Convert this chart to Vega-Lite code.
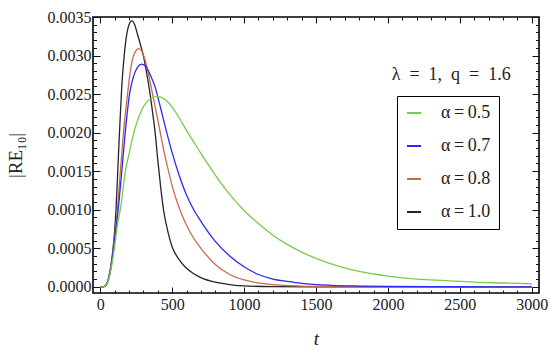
{
  "$schema": "https://vega.github.io/schema/vega-lite/v6.json",
  "width": 446,
  "height": 276,
  "autosize": "none",
  "padding": {"left": 93, "top": 17, "right": 11, "bottom": 64},
  "background": "white",
  "config": {
    "view": {"stroke": "black", "strokeWidth": 1.6},
    "font": "Liberation Serif",
    "axis": {
      "labelFont": "Liberation Serif",
      "labelFontSize": 16,
      "labelColor": "#222222",
      "titleFont": "Liberation Serif",
      "titleColor": "#222222",
      "titleFontWeight": "normal",
      "tickColor": "#111111",
      "tickWidth": 1,
      "domain": false,
      "grid": false
    },
    "legend": {"labelFont": "Liberation Serif", "titleFont": "Liberation Serif"},
    "text": {"font": "Liberation Serif"}
  },
  "datasets": {
    "curves": [
      {"t": 0, "v": 0, "a": "α=1.0"}, {"t": 20, "v": 0, "a": "α=1.0"}, {"t": 40, "v": 0.00002, "a": "α=1.0"},
      {"t": 60, "v": 0.00013, "a": "α=1.0"}, {"t": 80, "v": 0.00035, "a": "α=1.0"}, {"t": 95, "v": 0.0006, "a": "α=1.0"},
      {"t": 110, "v": 0.001, "a": "α=1.0"}, {"t": 122, "v": 0.0015, "a": "α=1.0"}, {"t": 134, "v": 0.002, "a": "α=1.0"},
      {"t": 150, "v": 0.0026, "a": "α=1.0"}, {"t": 167, "v": 0.003, "a": "α=1.0"}, {"t": 185, "v": 0.00328, "a": "α=1.0"},
      {"t": 200, "v": 0.0034, "a": "α=1.0"}, {"t": 220, "v": 0.00345, "a": "α=1.0"}, {"t": 240, "v": 0.0034, "a": "α=1.0"},
      {"t": 260, "v": 0.00327, "a": "α=1.0"}, {"t": 280, "v": 0.00314, "a": "α=1.0"}, {"t": 300, "v": 0.003, "a": "α=1.0"},
      {"t": 325, "v": 0.00275, "a": "α=1.0"}, {"t": 347, "v": 0.0025, "a": "α=1.0"}, {"t": 365, "v": 0.00225, "a": "α=1.0"},
      {"t": 382, "v": 0.002, "a": "α=1.0"}, {"t": 400, "v": 0.00165, "a": "α=1.0"}, {"t": 420, "v": 0.0013, "a": "α=1.0"},
      {"t": 440, "v": 0.001, "a": "α=1.0"}, {"t": 470, "v": 0.00072, "a": "α=1.0"}, {"t": 500, "v": 0.00052, "a": "α=1.0"},
      {"t": 550, "v": 0.00035, "a": "α=1.0"}, {"t": 600, "v": 0.00024, "a": "α=1.0"}, {"t": 650, "v": 0.00017, "a": "α=1.0"},
      {"t": 700, "v": 0.00012, "a": "α=1.0"}, {"t": 800, "v": 0.00006, "a": "α=1.0"}, {"t": 900, "v": 0.00003, "a": "α=1.0"},
      {"t": 1000, "v": 0.000012, "a": "α=1.0"}, {"t": 1200, "v": 0.000003, "a": "α=1.0"}, {"t": 1500, "v": 0, "a": "α=1.0"},
      {"t": 2000, "v": 0, "a": "α=1.0"}, {"t": 3000, "v": 0, "a": "α=1.0"},

      {"t": 0, "v": 0, "a": "α=0.8"}, {"t": 20, "v": 0, "a": "α=0.8"}, {"t": 40, "v": 0.00002, "a": "α=0.8"},
      {"t": 60, "v": 0.00012, "a": "α=0.8"}, {"t": 80, "v": 0.00033, "a": "α=0.8"}, {"t": 100, "v": 0.00065, "a": "α=0.8"},
      {"t": 120, "v": 0.001, "a": "α=0.8"}, {"t": 140, "v": 0.0015, "a": "α=0.8"}, {"t": 162, "v": 0.002, "a": "α=0.8"},
      {"t": 190, "v": 0.0025, "a": "α=0.8"}, {"t": 210, "v": 0.0028, "a": "α=0.8"}, {"t": 227, "v": 0.00297, "a": "α=0.8"},
      {"t": 245, "v": 0.00305, "a": "α=0.8"}, {"t": 266, "v": 0.00309, "a": "α=0.8"}, {"t": 285, "v": 0.00307, "a": "α=0.8"},
      {"t": 300, "v": 0.00301, "a": "α=0.8"}, {"t": 325, "v": 0.00285, "a": "α=0.8"}, {"t": 350, "v": 0.00263, "a": "α=0.8"},
      {"t": 375, "v": 0.0024, "a": "α=0.8"}, {"t": 400, "v": 0.00217, "a": "α=0.8"}, {"t": 425, "v": 0.00193, "a": "α=0.8"},
      {"t": 450, "v": 0.0017, "a": "α=0.8"}, {"t": 475, "v": 0.0015, "a": "α=0.8"}, {"t": 500, "v": 0.00131, "a": "α=0.8"},
      {"t": 550, "v": 0.00102, "a": "α=0.8"}, {"t": 600, "v": 0.0008, "a": "α=0.8"}, {"t": 650, "v": 0.00063, "a": "α=0.8"},
      {"t": 700, "v": 0.0005, "a": "α=0.8"}, {"t": 800, "v": 0.00029, "a": "α=0.8"}, {"t": 900, "v": 0.00016, "a": "α=0.8"},
      {"t": 1000, "v": 0.00009, "a": "α=0.8"}, {"t": 1100, "v": 0.00005, "a": "α=0.8"}, {"t": 1200, "v": 0.000028, "a": "α=0.8"},
      {"t": 1400, "v": 0.00001, "a": "α=0.8"}, {"t": 1600, "v": 0.000004, "a": "α=0.8"}, {"t": 2000, "v": 0.000001, "a": "α=0.8"},
      {"t": 2500, "v": 0, "a": "α=0.8"}, {"t": 3000, "v": 0, "a": "α=0.8"},

      {"t": 0, "v": 0, "a": "α=0.7"}, {"t": 20, "v": 0, "a": "α=0.7"}, {"t": 40, "v": 0.00002, "a": "α=0.7"},
      {"t": 60, "v": 0.00011, "a": "α=0.7"}, {"t": 80, "v": 0.00031, "a": "α=0.7"}, {"t": 100, "v": 0.00062, "a": "α=0.7"},
      {"t": 125, "v": 0.001, "a": "α=0.7"}, {"t": 150, "v": 0.0015, "a": "α=0.7"}, {"t": 174, "v": 0.002, "a": "α=0.7"},
      {"t": 204, "v": 0.0025, "a": "α=0.7"}, {"t": 230, "v": 0.00272, "a": "α=0.7"}, {"t": 260, "v": 0.00285, "a": "α=0.7"},
      {"t": 289, "v": 0.00289, "a": "α=0.7"}, {"t": 320, "v": 0.00285, "a": "α=0.7"}, {"t": 350, "v": 0.00274, "a": "α=0.7"},
      {"t": 380, "v": 0.0026, "a": "α=0.7"}, {"t": 420, "v": 0.00232, "a": "α=0.7"}, {"t": 460, "v": 0.00202, "a": "α=0.7"},
      {"t": 500, "v": 0.00174, "a": "α=0.7"}, {"t": 550, "v": 0.00144, "a": "α=0.7"}, {"t": 600, "v": 0.00119, "a": "α=0.7"},
      {"t": 650, "v": 0.001, "a": "α=0.7"}, {"t": 700, "v": 0.00085, "a": "α=0.7"}, {"t": 800, "v": 0.00059, "a": "α=0.7"},
      {"t": 900, "v": 0.0004, "a": "α=0.7"}, {"t": 1000, "v": 0.00026, "a": "α=0.7"}, {"t": 1100, "v": 0.00016, "a": "α=0.7"},
      {"t": 1200, "v": 0.0001, "a": "α=0.7"}, {"t": 1300, "v": 0.00007, "a": "α=0.7"}, {"t": 1400, "v": 0.000045, "a": "α=0.7"},
      {"t": 1600, "v": 0.00002, "a": "α=0.7"}, {"t": 1800, "v": 0.00001, "a": "α=0.7"}, {"t": 2000, "v": 0.000005, "a": "α=0.7"},
      {"t": 2500, "v": 0.000001, "a": "α=0.7"}, {"t": 3000, "v": 0, "a": "α=0.7"},

      {"t": 0, "v": 0, "a": "α=0.5"}, {"t": 20, "v": 0, "a": "α=0.5"}, {"t": 40, "v": 0.00002, "a": "α=0.5"},
      {"t": 60, "v": 0.0001, "a": "α=0.5"}, {"t": 80, "v": 0.00028, "a": "α=0.5"}, {"t": 100, "v": 0.00052, "a": "α=0.5"},
      {"t": 120, "v": 0.0008, "a": "α=0.5"}, {"t": 144, "v": 0.00105, "a": "α=0.5"}, {"t": 175, "v": 0.0015, "a": "α=0.5"},
      {"t": 200, "v": 0.00172, "a": "α=0.5"}, {"t": 230, "v": 0.00197, "a": "α=0.5"}, {"t": 260, "v": 0.00216, "a": "α=0.5"},
      {"t": 290, "v": 0.0023, "a": "α=0.5"}, {"t": 320, "v": 0.00239, "a": "α=0.5"}, {"t": 360, "v": 0.00245, "a": "α=0.5"},
      {"t": 398, "v": 0.00247, "a": "α=0.5"}, {"t": 450, "v": 0.00243, "a": "α=0.5"}, {"t": 500, "v": 0.00233, "a": "α=0.5"},
      {"t": 550, "v": 0.00219, "a": "α=0.5"}, {"t": 600, "v": 0.00203, "a": "α=0.5"}, {"t": 650, "v": 0.00188, "a": "α=0.5"},
      {"t": 700, "v": 0.00173, "a": "α=0.5"}, {"t": 800, "v": 0.00145, "a": "α=0.5"}, {"t": 900, "v": 0.0012, "a": "α=0.5"},
      {"t": 1000, "v": 0.00099, "a": "α=0.5"}, {"t": 1100, "v": 0.00082, "a": "α=0.5"}, {"t": 1200, "v": 0.00067, "a": "α=0.5"},
      {"t": 1300, "v": 0.00055, "a": "α=0.5"}, {"t": 1400, "v": 0.00045, "a": "α=0.5"}, {"t": 1500, "v": 0.00037, "a": "α=0.5"},
      {"t": 1600, "v": 0.0003, "a": "α=0.5"}, {"t": 1800, "v": 0.0002, "a": "α=0.5"}, {"t": 2000, "v": 0.00014, "a": "α=0.5"},
      {"t": 2200, "v": 0.0001, "a": "α=0.5"}, {"t": 2400, "v": 0.00008, "a": "α=0.5"}, {"t": 2600, "v": 0.00006, "a": "α=0.5"},
      {"t": 2800, "v": 0.00005, "a": "α=0.5"}, {"t": 3000, "v": 0.00004, "a": "α=0.5"}
    ]
  },
  "data": {"name": "curves"},
  "layer": [
    {
      "mark": {"type": "line", "strokeOpacity": 0},
      "encoding": {
        "x": {"field": "t", "type": "quantitative", "scale": {"domain": [-50, 3050], "nice": false, "zero": false},
              "axis": {"orient": "bottom", "values": [0,100,200,300,400,500,600,700,800,900,1000,1100,1200,1300,1400,1500,1600,1700,1800,1900,2000,2100,2200,2300,2400,2500,2600,2700,2800,2900,3000], "labels": false, "tickSize": -3, "title": null}},
        "y": {"field": "v", "type": "quantitative", "scale": {"domain": [-0.00008, 0.0035], "nice": false, "zero": false},
              "axis": {"orient": "left", "values": [0,0.0001,0.0002,0.0003,0.0004,0.0005,0.0006,0.0007,0.0008,0.0009,0.001,0.0011,0.0012,0.0013,0.0014,0.0015,0.0016,0.0017,0.0018,0.0019,0.002,0.0021,0.0022,0.0023,0.0024,0.0025,0.0026,0.0027,0.0028,0.0029,0.003,0.0031,0.0032,0.0033,0.0034,0.0035], "labels": false, "tickSize": -3.5, "title": null}},
        "detail": {"field": "a"}
      }
    },
    {
      "mark": {"type": "line", "strokeOpacity": 0},
      "encoding": {
        "x": {"field": "t", "type": "quantitative", "scale": {"domain": [-50, 3050], "nice": false, "zero": false},
              "axis": {"orient": "top", "values": [0,100,200,300,400,500,600,700,800,900,1000,1100,1200,1300,1400,1500,1600,1700,1800,1900,2000,2100,2200,2300,2400,2500,2600,2700,2800,2900,3000], "labels": false, "tickSize": -3, "title": null}},
        "y": {"field": "v", "type": "quantitative", "scale": {"domain": [-0.00008, 0.0035], "nice": false, "zero": false},
              "axis": {"orient": "right", "values": [0,0.0001,0.0002,0.0003,0.0004,0.0005,0.0006,0.0007,0.0008,0.0009,0.001,0.0011,0.0012,0.0013,0.0014,0.0015,0.0016,0.0017,0.0018,0.0019,0.002,0.0021,0.0022,0.0023,0.0024,0.0025,0.0026,0.0027,0.0028,0.0029,0.003,0.0031,0.0032,0.0033,0.0034,0.0035], "labels": false, "tickSize": -3.5, "title": null}},
        "detail": {"field": "a"}
      }
    },
    {
      "mark": {"type": "line", "strokeOpacity": 0},
      "encoding": {
        "x": {"field": "t", "type": "quantitative", "scale": {"domain": [-50, 3050], "nice": false, "zero": false},
              "axis": {"orient": "top", "values": [0,500,1000,1500,2000,2500,3000], "labels": false, "tickSize": -6, "title": null}},
        "y": {"field": "v", "type": "quantitative", "scale": {"domain": [-0.00008, 0.0035], "nice": false, "zero": false},
              "axis": {"orient": "right", "values": [0,0.0005,0.001,0.0015,0.002,0.0025,0.003,0.0035], "labels": false, "tickSize": -7, "title": null}},
        "detail": {"field": "a"}
      }
    },
    {
      "mark": {"type": "line", "strokeWidth": 1.3, "interpolate": "monotone"},
      "encoding": {
        "x": {"field": "t", "type": "quantitative", "scale": {"domain": [-50, 3050], "nice": false, "zero": false},
              "axis": {"orient": "bottom", "values": [0,500,1000,1500,2000,2500,3000], "format": "d", "tickSize": -6, "labelPadding": 9,
                       "labelFont": "Liberation Serif",
                       "title": "t", "titleFontStyle": "italic", "titleFontSize": 19, "titlePadding": 17}},
        "y": {"field": "v", "type": "quantitative", "scale": {"domain": [-0.00008, 0.0035], "nice": false, "zero": false},
              "axis": {"orient": "left", "values": [0,0.0005,0.001,0.0015,0.002,0.0025,0.003,0.0035], "format": ".4f", "tickSize": -7, "labelPadding": 9,
                       "labelFont": "Liberation Serif",
                       "title": "|RE₁₀|", "titleFontSize": 19, "titlePadding": 22}},
        "color": {
          "field": "a", "type": "nominal",
          "scale": {"domain": ["α=0.5", "α=0.7", "α=0.8", "α=1.0"], "range": ["#78cc48", "#2a2af2", "#c86a4e", "#262626"]},
          "legend": {
            "orient": "none", "legendX": 304, "legendY": 79, "title": null,
            "strokeColor": "black", "fillColor": "white", "padding": 8,
            "symbolType": "stroke", "symbolSize": 196, "symbolStrokeWidth": 2,
            "labelFont": "Liberation Serif", "labelFontSize": 18, "labelColor": "#222222",
            "labelOffset": 18, "rowPadding": 15,
            "labelExpr": "replace(datum.label, '=', '\u2009=\u2009')"
          }
        }
      }
    },
    {
      "data": {"values": [{}]},
      "mark": {"type": "text", "font": "Liberation Serif", "fontSize": 18, "color": "#222222", "align": "center", "baseline": "middle"},
      "encoding": {
        "x": {"datum": 2440, "type": "quantitative", "axis": null},
        "y": {"datum": 0.00275, "type": "quantitative", "axis": null},
        "text": {"value": "λ\u2002=\u20021,\u2002q\u2002=\u20021.6"}
      }
    }
  ],
  "resolve": {"axis": {"x": "independent", "y": "independent"}}
}
